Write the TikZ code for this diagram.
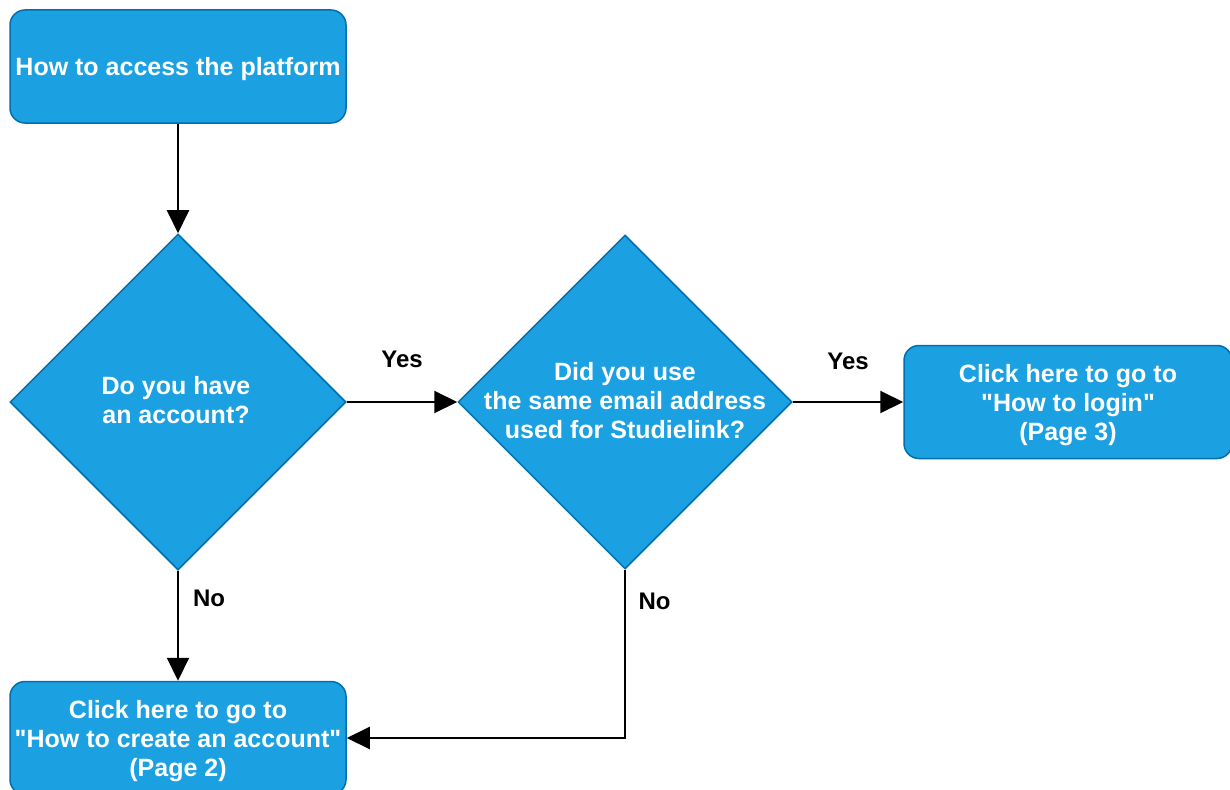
\documentclass[tikz,border=0pt]{standalone}
\usepackage{fontspec}
\setmainfont{Liberation Sans}[Ligatures=TeXOff]
\usepackage{xcolor}
\definecolor{boxfill}{RGB}{27,161,226}
\definecolor{boxline}{RGB}{0,110,175}
\usetikzlibrary{arrows.meta,shapes.geometric,positioning}

\begin{document}
\begin{tikzpicture}[x=1pt,y=-1pt,
    every node/.style={font=\fontsize{25}{29}\selectfont\bfseries},
    box/.style={draw=boxline,fill=boxfill,line width=1.5pt,rounded corners=15pt,minimum width=336pt,minimum height=113pt,text=white,align=center,inner sep=0pt,text depth=0pt},
    decision/.style={diamond,draw=boxline,fill=boxfill,line width=1.5pt,minimum width=336pt,minimum height=336pt,inner sep=0pt},
    txt/.style={text=white,align=center,inner sep=0pt},
    lbl/.style={font=\fontsize{24}{28}\selectfont\bfseries,inner sep=0pt},
    arr/.style={line width=2pt,-{Triangle[length=23pt,width=22pt]}}]
            \useasboundingbox (0,0) rectangle (1230,789);
            \node[box] (start) at (178,66.5) {How to access the platform};
            \node[decision] (account) at (178,402) {};
            \node[txt] (accounttxt) at (176,400.5) {Do you have\\ an account?};
            \node[decision,minimum width=334pt,minimum height=334pt] (email) at (625,402) {};
            \node[txt] (emailtxt) at (625,400.5) {Did you use\\the same email address\\used for Studielink?};
            \node[box,minimum width=328pt] (login) at (1068,402) {Click here to go to\\"How to login"\\(Page 3)};
            \node[box] (create) at (178,738) {Click here to go to\\"How to create an account"\\(Page 2)};
            \draw[arr] (start) -- (account);
            \draw[arr] (account.east) -- node[lbl,above=33pt] {Yes} (email.west);
            \draw[arr] (email.east) -- node[lbl,above=31pt] {Yes} (login.west);
            \draw[arr] (account.south) -- node[lbl,pos=.25,right=14pt] {No} (create.north);
            \draw[arr] (email.south) |- node[lbl,pos=.095,right=12.5pt] {No} (create.east);
    \end{tikzpicture}
\end{document}
